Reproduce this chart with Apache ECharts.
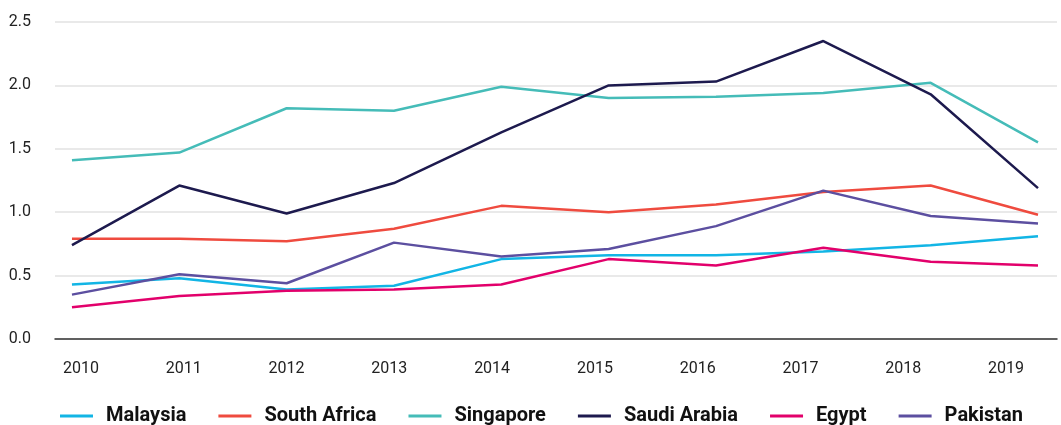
<!DOCTYPE html>
<html>
<head>
<meta charset="utf-8">
<script src="https://cdn.jsdelivr.net/npm/echarts@6/dist/echarts.min.js"></script>
<style>
  html, body { margin: 0; padding: 0; background: #fff; }
  #chart { width: 1061px; height: 425px; }
</style>
</head>
<body>
<div id="chart"></div>
<script>
  // years on the x axis
  var years = ['2010', '2011', '2012', '2013', '2014', '2015', '2016', '2017', '2018', '2019'];

  // series values
  var malaysia    = [0.43, 0.48, 0.39, 0.42, 0.63, 0.66, 0.66, 0.69, 0.74, 0.81];
  var southAfrica = [0.79, 0.79, 0.77, 0.87, 1.05, 1.00, 1.06, 1.16, 1.21, 0.98];
  var singapore   = [1.41, 1.47, 1.82, 1.80, 1.99, 1.90, 1.91, 1.94, 2.02, 1.55];
  var saudiArabia = [0.74, 1.21, 0.99, 1.23, 1.63, 2.00, 2.03, 2.35, 1.93, 1.19];
  var egypt       = [0.25, 0.34, 0.38, 0.39, 0.43, 0.63, 0.58, 0.72, 0.61, 0.58];
  var pakistan    = [0.35, 0.51, 0.44, 0.76, 0.65, 0.71, 0.89, 1.17, 0.97, 0.91];

  var names  = ['Malaysia', 'South Africa', 'Singapore', 'Saudi Arabia', 'Egypt', 'Pakistan'];
  var values = [malaysia, southAfrica, singapore, saudiArabia, egypt, pakistan];
  var colors = ['#12b5e5', '#ef4b3f', '#45bcb8', '#1d1a4e', '#e2006b', '#5c4fa0'];

  function toPoints(arr) {
    return arr.map(function (v, i) { return [i, v]; });
  }

  var chart = echarts.init(document.getElementById('chart'));

  var series = names.map(function (n, k) {
    return {
      name: n,
      type: 'line',
      xAxisIndex: 0,
      yAxisIndex: 0,
      data: toPoints(values[k]),
      showSymbol: false,
      lineStyle: { width: 2.5, color: colors[k] },
      itemStyle: { color: colors[k] }
    };
  });

  chart.setOption({
    animation: false,
    textStyle: { fontFamily: 'Roboto, sans-serif' },
    grid: [
      { left: 55, right: 4, top: 22, bottom: 86 },
      { left: 81, right: 55, top: 22, bottom: 86 }
    ],
    legend: {
      top: 401,
      left: 55,
      padding: 5,
      icon: 'rect',
      itemWidth: 33,
      itemHeight: 3,
      itemGap: 32,
      textStyle: {
        fontFamily: 'Roboto, sans-serif',
        fontWeight: 'bold',
        fontSize: 20,
        color: '#111',
        padding: [0, 0, 0, 8]
      },
      data: names
    },
    xAxis: [
      {
        type: 'value',
        gridIndex: 0,
        min: -0.158,
        max: 9.177,
        axisLine: { show: true, onZero: false, lineStyle: { color: '#333', width: 1.5 } },
        axisTick: { show: false },
        axisLabel: { show: false },
        splitLine: { show: false }
      },
      {
        type: 'category',
        gridIndex: 1,
        boundaryGap: false,
        data: years,
        axisLine: { show: false },
        axisTick: { show: false },
        axisLabel: { margin: 22, fontSize: 16, color: '#222' },
        splitLine: { show: false }
      }
    ],
    yAxis: [
      {
        type: 'value',
        gridIndex: 0,
        min: 0,
        max: 2.5,
        interval: 0.5,
        axisLine: { show: false },
        axisTick: { show: false },
        axisLabel: {
          margin: 24,
          fontSize: 16,
          color: '#222',
          formatter: function (v) { return v.toFixed(1); }
        },
        splitLine: { lineStyle: { color: '#e2e2e2', width: 1.5 } }
      },
      {
        type: 'value',
        gridIndex: 1,
        show: false,
        min: 0,
        max: 2.5
      }
    ],
    series: series
  });
</script>
</body>
</html>
